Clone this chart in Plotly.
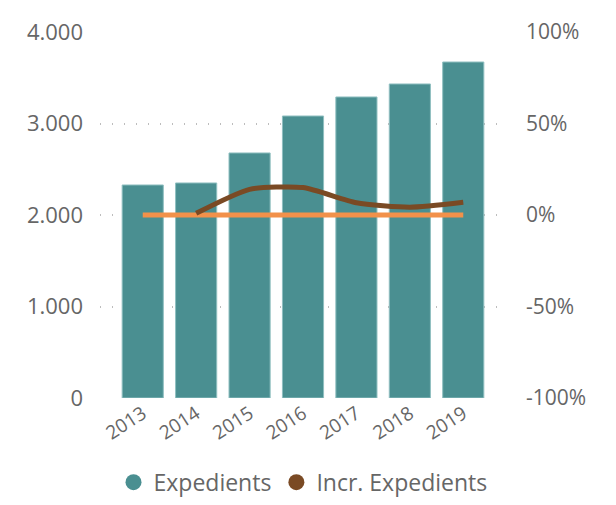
import plotly.graph_objects as go

years = ["2013", "2014", "2015", "2016", "2017", "2018", "2019"]
expedients = [2328, 2350, 2678, 3082, 3290, 3432, 3672]
incr_years = ["2014", "2015", "2016", "2017", "2018", "2019"]
incr_expedients = [0.009, 0.14, 0.15, 0.067, 0.043, 0.07]
baseline = [0, 0, 0, 0, 0, 0, 0]
left_ticks = [0, 1000, 2000, 3000, 4000]
right_ticks = [-1, -0.5, 0, 0.5, 1]
right_labels = ["-100%", "-50%", "0%", "50%", "100%"]

TEAL = "#4A8F91"
BROWN = "#7A4A24"
ORANGE = "#F2914A"
GREY = "#666666"
FONT = "Open Sans"

fig = go.Figure()
fig.add_trace(go.Bar(x=years, y=expedients, name="Expedients",
                     marker=dict(color=TEAL, line=dict(color="#8FBFC0", width=1)),
                     width=0.77, showlegend=False))
fig.add_trace(go.Scatter(x=years, y=baseline, yaxis="y2", mode="lines",
                         line=dict(color=ORANGE, width=5), showlegend=False))
fig.add_trace(go.Scatter(x=incr_years, y=incr_expedients, yaxis="y2", mode="lines",
                         line=dict(color=BROWN, width=5, shape="spline", smoothing=0.6),
                         showlegend=False))
# legend entries
fig.add_trace(go.Scatter(x=[None], y=[None], mode="markers", name="Expedients",
                         marker=dict(color=TEAL, size=19, symbol="circle")))
fig.add_trace(go.Scatter(x=[None], y=[None], mode="markers", name="Incr. Expedients",
                         marker=dict(color=BROWN, size=19, symbol="circle")))

fig.update_layout(
    width=616, height=505,
    margin=dict(l=92, r=118, t=24, b=115, autoexpand=False),
    plot_bgcolor="white", paper_bgcolor="white",
    separators=",.",
    font=dict(family=FONT, color=GREY, size=19),
    xaxis=dict(type="category", range=[-0.8, 6.8], tickangle=-33, showgrid=False,
               showline=False, ticks="", automargin=False,
               tickfont=dict(size=19, color=GREY)),
    yaxis=dict(range=[0, 4000], tickvals=left_ticks, tickformat=",d",
               showgrid=True, gridcolor="#BDBDBD", griddash="1px,11px", gridwidth=1.5,
               zeroline=False, showline=False, ticks="", automargin=False,
               tickfont=dict(size=22, color=GREY), ticklabelstandoff=16),
    yaxis2=dict(range=[-1, 1], tickvals=right_ticks, ticktext=right_labels, overlaying="y",
                side="right", showgrid=False, zeroline=False, showline=False, ticks="",
                automargin=False, tickfont=dict(size=21, color=GREY), ticklabelstandoff=19),
    legend=dict(orientation="h", x=0.5, xanchor="center", y=-0.23, yanchor="middle",
                font=dict(size=23, color=GREY), itemwidth=30, tracegroupgap=0),
    bargap=0.23,
)

fig.write_html("out.html")
